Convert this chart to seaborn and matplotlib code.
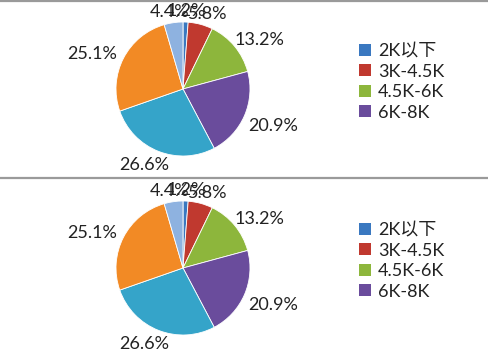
import matplotlib
matplotlib.use("Agg")
import numpy as np
import matplotlib.pyplot as plt
import matplotlib.transforms as mtrans
import seaborn as sns
from matplotlib.lines import Line2D
from matplotlib.patches import Patch

categories = ["2K以下", "3K-4.5K", "4.5K-6K", "6K-8K", "8K-10K", "10K-15K", "15K以上"]
values = [1.2, 5.8, 13.2, 20.9, 26.6, 25.1, 4.4]
colors = ["#3A78C0", "#C0392F", "#8DB63C", "#6A4C9C", "#35A4C9", "#F28A25", "#8EB2E0"]
legend_shown = 4

sns.set_theme(style="white")
FONT = ["Lato", "Noto Sans CJK SC", "DejaVu Sans"]
plt.rcParams["font.family"] = FONT

W, H = 489, 358
fig = plt.figure(figsize=(W / 100, H / 100), dpi=100)
fig.patch.set_facecolor("white")
renderer = fig.canvas.get_renderer()

palette = sns.color_palette(colors)

panel_tops = [0, 179]
for top in panel_tops:
    cx, cy, r = 183, top + 89, 67
    ax = fig.add_axes([(cx - r) / W, 1 - (cy + r) / H, 2 * r / W, 2 * r / H])
    wedges, texts = ax.pie(
        values, colors=palette, startangle=90, counterclock=False, radius=1.0,
        wedgeprops=dict(linewidth=0.6, edgecolor="white"),
    )
    ax.set_aspect("equal")
    ax.set_xlim(-1, 1)
    ax.set_ylim(-1, 1)
    for w, v in zip(wedges, values):
        ang = np.deg2rad((w.theta1 + w.theta2) / 2)
        x, y = np.cos(ang), np.sin(ang)
        d = 1.1
        t = ax.text(d * x, d * y, f"{v:.1f}%", ha="center", va="center_baseline",
                    fontsize=13, color="#222222", clip_on=False)
        bb = t.get_window_extent(renderer)
        dx = x * bb.width / 2 - (3 if x < -0.3 else 0)
        dy = y * 6 - (4 if -0.7 < y < -0.2 else 0)
        t.set_transform(mtrans.offset_copy(ax.transData, fig, x=dx, y=dy, units="dots"))
    handles = [Patch(facecolor=palette[i], edgecolor="none") for i in range(legend_shown)]
    fig.legend(handles, categories[:legend_shown],
               loc="upper left", bbox_to_anchor=(352 / W, 1 - (top + 36) / H),
               frameon=False, fontsize=13, handlelength=0.65, handleheight=0.65,
               handletextpad=0.4, labelspacing=0.25, borderaxespad=0,
               labelcolor="#222222")

for y in [1, 178]:
    fig.add_artist(Line2D([0, 1], [1 - y / H, 1 - y / H], color="#9a9a9a", lw=1.6,
                          transform=fig.transFigure))

fig.savefig("out.png", dpi=100, facecolor="white")
